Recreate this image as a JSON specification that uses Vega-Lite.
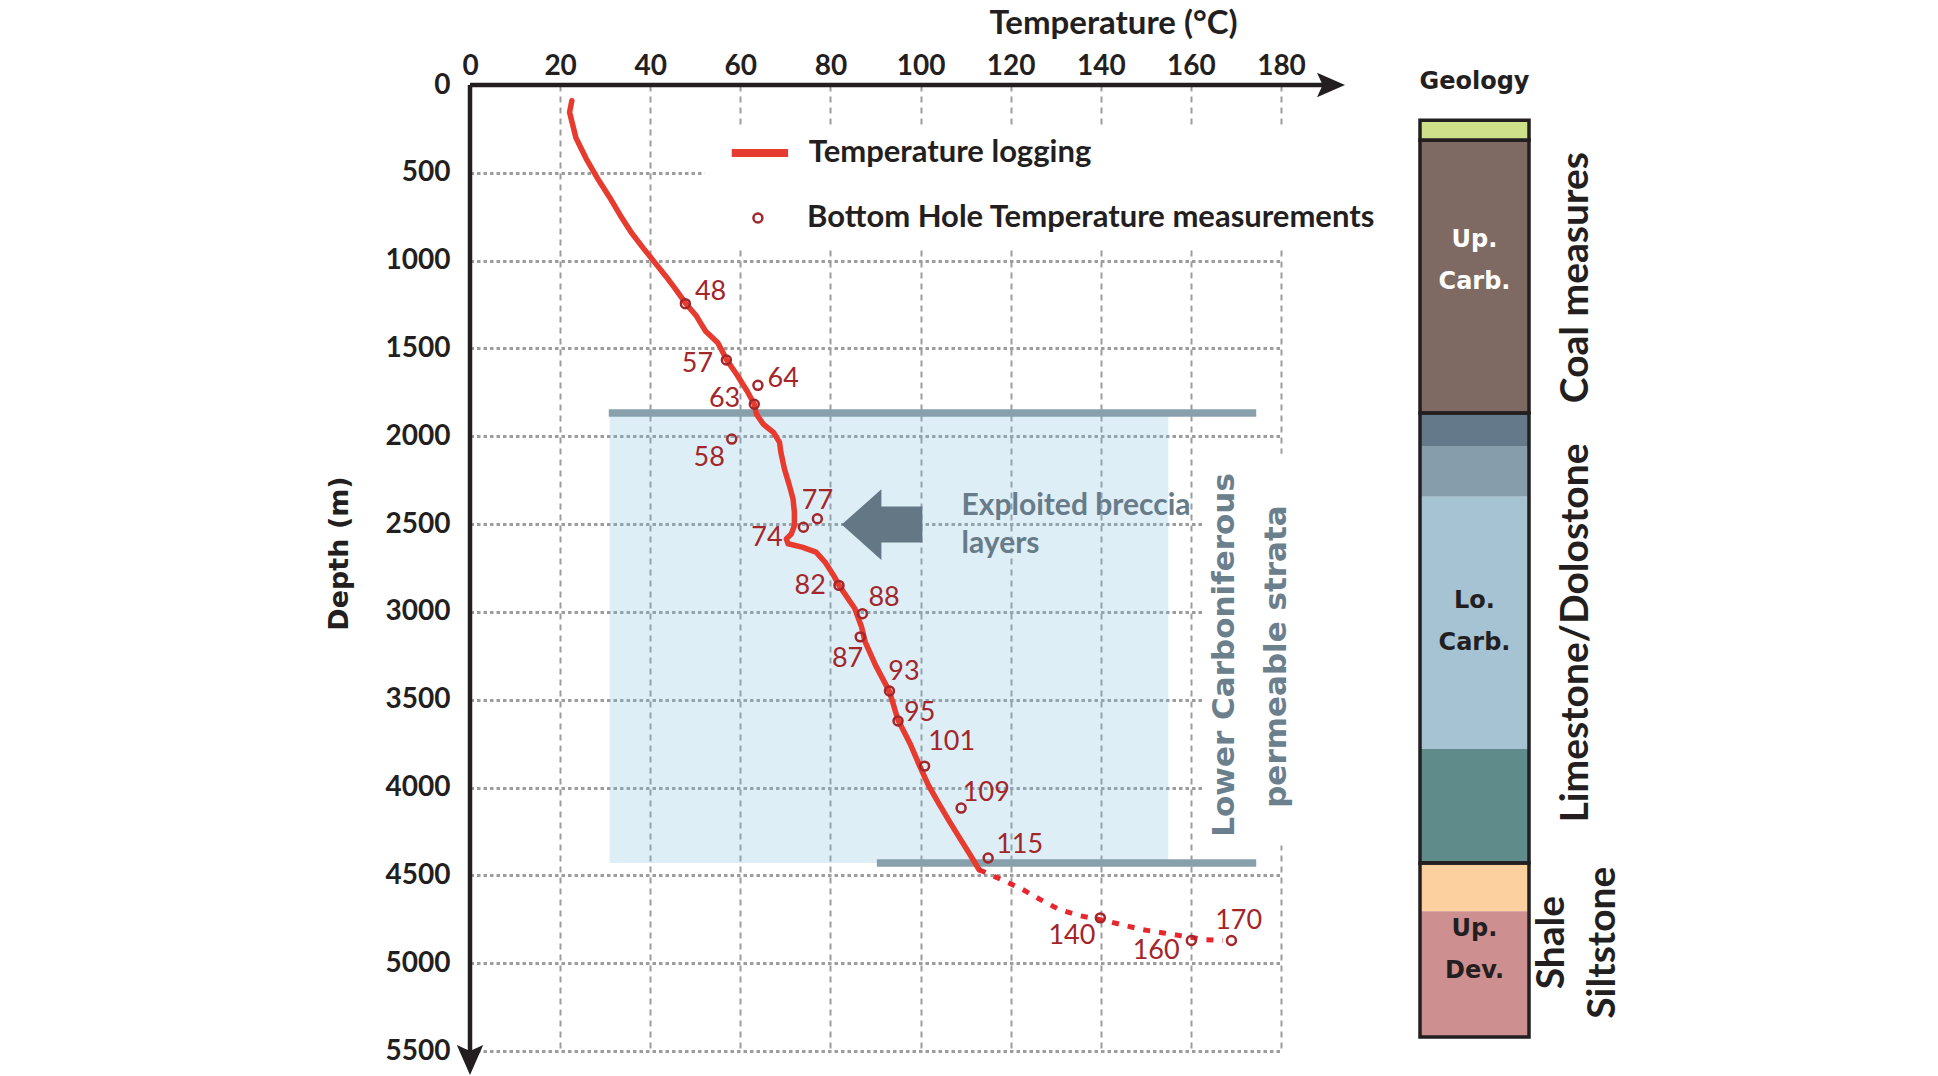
{
  "$schema": "https://vega.github.io/schema/vega-lite/v6.json",
  "autosize": {"type": "none"},
  "padding": {"left": 470, "top": 85, "right": 1468, "bottom": 991},
  "background": "white",
  "bounds": "flush",
  "spacing": 139,
  "config": {"view": {"stroke": null}, "font": "Lato"},
  "datasets": {
    "logging": [
      {"temp": 22.6, "depth": 90}, {"temp": 22.1, "depth": 155}, {"temp": 23.5, "depth": 300},
      {"temp": 25.8, "depth": 420}, {"temp": 28.5, "depth": 540}, {"temp": 31.0, "depth": 640},
      {"temp": 33.3, "depth": 740}, {"temp": 35.8, "depth": 840}, {"temp": 38.5, "depth": 930},
      {"temp": 41.0, "depth": 1010}, {"temp": 43.5, "depth": 1090}, {"temp": 45.7, "depth": 1165},
      {"temp": 47.8, "depth": 1241}, {"temp": 50.3, "depth": 1317}, {"temp": 51.4, "depth": 1364},
      {"temp": 52.3, "depth": 1402}, {"temp": 55.0, "depth": 1468}, {"temp": 55.8, "depth": 1506},
      {"temp": 56.9, "depth": 1562}, {"temp": 59.2, "depth": 1648}, {"temp": 61.5, "depth": 1742},
      {"temp": 63.1, "depth": 1818}, {"temp": 63.6, "depth": 1875}, {"temp": 65.1, "depth": 1931},
      {"temp": 67.4, "depth": 1979}, {"temp": 68.7, "depth": 2035}, {"temp": 69.0, "depth": 2092},
      {"temp": 69.8, "depth": 2187}, {"temp": 70.9, "depth": 2281}, {"temp": 71.7, "depth": 2357},
      {"temp": 72.0, "depth": 2433}, {"temp": 72.0, "depth": 2508}, {"temp": 71.3, "depth": 2556},
      {"temp": 70.2, "depth": 2584}, {"temp": 70.6, "depth": 2612}, {"temp": 73.7, "depth": 2631},
      {"temp": 76.8, "depth": 2660}, {"temp": 78.8, "depth": 2716}, {"temp": 80.7, "depth": 2792},
      {"temp": 81.9, "depth": 2849}, {"temp": 85.4, "depth": 2981}, {"temp": 86.9, "depth": 3085},
      {"temp": 87.7, "depth": 3170}, {"temp": 90.0, "depth": 3303}, {"temp": 93.1, "depth": 3454},
      {"temp": 95.0, "depth": 3615}, {"temp": 97.8, "depth": 3757}, {"temp": 99.7, "depth": 3871},
      {"temp": 101.7, "depth": 3985}, {"temp": 104.0, "depth": 4089}, {"temp": 106.4, "depth": 4193},
      {"temp": 108.7, "depth": 4288}, {"temp": 111.0, "depth": 4383}, {"temp": 113.0, "depth": 4468}
    ],
    "extrapolation": [
      {"temp": 113.0, "depth": 4468}, {"temp": 118.0, "depth": 4525}, {"temp": 122.7, "depth": 4581},
      {"temp": 126.6, "depth": 4638}, {"temp": 130.8, "depth": 4695}, {"temp": 135.2, "depth": 4729},
      {"temp": 139.9, "depth": 4752}, {"temp": 144.5, "depth": 4780}, {"temp": 149.2, "depth": 4809},
      {"temp": 153.9, "depth": 4828}, {"temp": 158.6, "depth": 4847}, {"temp": 163.2, "depth": 4866},
      {"temp": 167.1, "depth": 4871}
    ],
    "bht": [
      {"value": 48, "temp": 47.8, "depth": 1245, "label_temp": 53.4, "label_depth": 1180},
      {"value": 57, "temp": 56.9, "depth": 1566, "label_temp": 50.5, "label_depth": 1590},
      {"value": 64, "temp": 63.9, "depth": 1710, "label_temp": 69.5, "label_depth": 1676},
      {"value": 63, "temp": 63.1, "depth": 1818, "label_temp": 56.5, "label_depth": 1786},
      {"value": 58, "temp": 58.1, "depth": 2016, "label_temp": 53.1, "label_depth": 2126},
      {"value": 77, "temp": 77.1, "depth": 2470, "label_temp": 77.1, "label_depth": 2366},
      {"value": 74, "temp": 74.0, "depth": 2518, "label_temp": 65.9, "label_depth": 2580},
      {"value": 82, "temp": 81.9, "depth": 2849, "label_temp": 75.5, "label_depth": 2853},
      {"value": 88, "temp": 87.1, "depth": 3010, "label_temp": 91.9, "label_depth": 2919},
      {"value": 87, "temp": 86.6, "depth": 3142, "label_temp": 83.8, "label_depth": 3269},
      {"value": 93, "temp": 93.1, "depth": 3450, "label_temp": 96.3, "label_depth": 3341},
      {"value": 95, "temp": 95.0, "depth": 3621, "label_temp": 99.8, "label_depth": 3577},
      {"value": 101, "temp": 100.9, "depth": 3878, "label_temp": 106.9, "label_depth": 3742},
      {"value": 109, "temp": 109.0, "depth": 4117, "label_temp": 114.6, "label_depth": 4032},
      {"value": 115, "temp": 115.0, "depth": 4401, "label_temp": 122.0, "label_depth": 4326},
      {"value": 140, "temp": 139.9, "depth": 4742, "label_temp": 133.6, "label_depth": 4847},
      {"value": 160, "temp": 160.1, "depth": 4871, "label_temp": 152.3, "label_depth": 4932},
      {"value": 170, "temp": 169.0, "depth": 4871, "label_temp": 170.6, "label_depth": 4761}
    ],
    "boundaries": [
      {"depth": 1867, "from": 30.8, "to": 174.5},
      {"depth": 4430, "from": 90.3, "to": 174.5}
    ],
    "geology": [
      {"layer": "Cover", "unit": "Cover", "top": 200, "bottom": 315},
      {"layer": "Coal measures", "unit": "Up. Carb.", "top": 315, "bottom": 1867},
      {"layer": "Lo. Carb. a", "unit": "Lo. Carb.", "top": 1867, "bottom": 2060},
      {"layer": "Lo. Carb. b", "unit": "Lo. Carb.", "top": 2060, "bottom": 2345},
      {"layer": "Lo. Carb. c", "unit": "Lo. Carb.", "top": 2345, "bottom": 3780},
      {"layer": "Lo. Carb. d", "unit": "Lo. Carb.", "top": 3780, "bottom": 4430},
      {"layer": "Shale", "unit": "Up. Dev.", "top": 4430, "bottom": 4705},
      {"layer": "Siltstone", "unit": "Up. Dev.", "top": 4705, "bottom": 5420}
    ],
    "unitlabels": [
      {"unit": "Up. Carb.", "lines": ["Up.", "Carb."], "depth": 883},
      {"unit": "Lo. Carb.", "lines": ["Lo.", "Carb."], "depth": 2940},
      {"unit": "Up. Dev.", "lines": ["Up.", "Dev."], "depth": 4804}
    ],
    "lithology": [
      {"name": "Coal measures", "depth": 1097},
      {"name": "Limestone/Dolostone", "depth": 3120},
      {"name": "Shale", "depth": 4883},
      {"name": "Siltstone", "depth": 4883}
    ]
  },
  "resolve": {"scale": {"y": "shared"}},
  "hconcat": [
    {
      "width": 811,
      "height": 966,
      "layer": [
        {
          "data": {"values": [{}]},
          "mark": {"type": "rect", "fill": "#7bbbdf", "fillOpacity": 0.25},
          "encoding": {"x": {"datum": 31}, "x2": {"datum": 155}, "y": {"datum": 1870}, "y2": {"datum": 4430}}
        },
        {
          "data": {"values": [{}]},
          "mark": {"type": "rect", "fill": "white"},
          "encoding": {"x": {"datum": 52}, "x2": {"datum": 203}, "y": {"datum": 228}, "y2": {"datum": 940}}
        },
        {
          "data": {"values": [{}]},
          "mark": {"type": "rect", "fill": "white"},
          "encoding": {"x": {"datum": 162.5}, "x2": {"datum": 200}, "y": {"datum": 2100}, "y2": {"datum": 4330}}
        },
        {
          "data": {"name": "boundaries"},
          "mark": {"type": "rule", "color": "#87a0ac", "strokeWidth": 7.5, "strokeCap": "butt"},
          "encoding": {"x": {"field": "from", "type": "quantitative"}, "x2": {"field": "to"}, "y": {"field": "depth", "type": "quantitative"}}
        },
        {
          "data": {"values": [{}]},
          "mark": {"type": "point", "filled": true, "color": "#637784", "opacity": 1, "size": 6512,
                   "shape": "M -1 0 L -0.016 -0.875 L -0.016 -0.446 L 1 -0.446 L 1 0.446 L -0.016 0.446 L -0.016 0.875 Z"},
          "encoding": {"x": {"datum": 91.45}, "y": {"datum": 2503}}
        },
        {
          "data": {"values": [{"text": ["Exploited breccia", "layers"]}]},
          "mark": {"type": "text", "font": "Lato", "fontWeight": "bold", "fontSize": 30, "color": "#677b88",
                   "align": "left", "baseline": "alphabetic", "lineHeight": 38},
          "encoding": {"x": {"datum": 109.1}, "y": {"datum": 2448}, "text": {"field": "text"}}
        },
        {
          "data": {"values": [{"text": "Lower Carboniferous", "temp": 167.5, "depth": 3245}, {"text": "permeable strata", "temp": 179.1, "depth": 3254}]},
          "mark": {"type": "text", "font": "DejaVu Sans", "fontWeight": "bold", "fontSize": 31, "color": "#6b808c",
                   "angle": 270, "align": "center", "baseline": "middle"},
          "encoding": {"x": {"field": "temp", "type": "quantitative"}, "y": {"field": "depth", "type": "quantitative"}, "text": {"field": "text"}}
        },
        {
          "data": {"name": "logging"},
          "mark": {"type": "line", "color": "#e63b2e", "strokeWidth": 5.5, "strokeCap": "round", "strokeJoin": "round"},
          "encoding": {
            "x": {
              "field": "temp", "type": "quantitative",
              "scale": {"domain": [0, 180], "nice": false, "zero": false},
              "axis": {
                "orient": "top", "values": [0, 20, 40, 60, 80, 100, 120, 140, 160, 180],
                "title": "Temperature (°C)", "domain": false, "ticks": false, "tickSize": 0,
                "grid": true, "gridDash": [6, 5], "gridColor": "#9d9d9d", "gridWidth": 2,
                "labelFont": "Lato", "labelFontWeight": "bold", "labelFontSize": 28, "labelColor": "#231f20",
                "labelPadding": 5, "labelFlush": false, "labelOverlap": false,
                "titleFont": "Lato", "titleFontWeight": "bold", "titleFontSize": 33, "titleColor": "#231f20",
                "titleX": 643, "titleY": -62, "titleAlign": "center", "titleBaseline": "middle", "titleAngle": 0
              }
            },
            "y": {
              "field": "depth", "type": "quantitative",
              "scale": {"domain": [0, 5500], "reverse": true, "nice": false, "zero": false},
              "axis": {
                "orient": "left", "values": [0, 500, 1000, 1500, 2000, 2500, 3000, 3500, 4000, 4500, 5000, 5500],
                "format": "d",
                "title": "Depth (m)", "domain": false, "ticks": false, "tickSize": 0,
                "grid": true, "gridDash": [3.5, 3], "gridColor": "#9d9d9d", "gridWidth": 3,
                "labelFont": "Lato", "labelFontWeight": "bold", "labelFontSize": 28, "labelColor": "#231f20",
                "labelPadding": 20, "labelFlush": false, "labelOverlap": false, "labelBaseline": "middle",
                "titleFont": "DejaVu Sans", "titleFontWeight": "bold", "titleFontSize": 27, "titleColor": "#231f20",
                "titleX": -131, "titleY": 468, "titleAngle": 270, "titleAlign": "center", "titleBaseline": "middle"
              }
            },
            "order": {"field": "depth", "type": "quantitative"}
          }
        },
        {
          "data": {"name": "extrapolation"},
          "mark": {"type": "line", "color": "#e8262e", "strokeWidth": 5, "strokeDash": [7, 9]},
          "encoding": {
            "x": {"field": "temp", "type": "quantitative"},
            "y": {"field": "depth", "type": "quantitative"},
            "order": {"field": "depth", "type": "quantitative"}
          }
        },
        {
          "data": {"name": "bht"},
          "mark": {"type": "point", "shape": "circle", "filled": false, "color": "#a3262a", "strokeWidth": 2.5, "size": 80, "opacity": 1},
          "encoding": {"x": {"field": "temp", "type": "quantitative"}, "y": {"field": "depth", "type": "quantitative"}}
        },
        {
          "data": {"name": "bht"},
          "mark": {"type": "text", "font": "Lato", "fontSize": 27, "color": "#a3262a", "align": "center", "baseline": "middle"},
          "encoding": {
            "x": {"field": "label_temp", "type": "quantitative"},
            "y": {"field": "label_depth", "type": "quantitative"},
            "text": {"field": "value", "type": "nominal"}
          }
        },
        {
          "data": {"values": [{}]},
          "mark": {"type": "rule", "color": "#e63b2e", "strokeWidth": 8, "strokeCap": "butt"},
          "encoding": {"x": {"datum": 58.1}, "x2": {"datum": 70.6}, "y": {"datum": 387}}
        },
        {
          "data": {"values": [{}]},
          "mark": {"type": "point", "shape": "circle", "filled": false, "color": "#a3262a", "strokeWidth": 2.5, "size": 80, "opacity": 1},
          "encoding": {"x": {"datum": 63.9}, "y": {"datum": 757}}
        },
        {
          "data": {"values": [{"text": "Temperature logging", "temp": 75.2, "depth": 387}, {"text": "Bottom Hole Temperature measurements", "temp": 74.8, "depth": 757}]},
          "mark": {"type": "text", "font": "Lato", "fontWeight": "bold", "fontSize": 31, "color": "#231f20", "align": "left", "baseline": "middle"},
          "encoding": {"x": {"field": "temp", "type": "quantitative"}, "y": {"field": "depth", "type": "quantitative"}, "text": {"field": "text"}}
        },
        {
          "data": {"values": [{}]},
          "mark": {"type": "rule", "color": "#231f20", "strokeWidth": 4.5},
          "encoding": {"x": {"datum": 0}, "x2": {"datum": 190}, "y": {"datum": 0}}
        },
        {
          "data": {"values": [{}]},
          "mark": {"type": "rule", "color": "#231f20", "strokeWidth": 4.5},
          "encoding": {"x": {"datum": 0}, "y": {"datum": 0}, "y2": {"datum": 5540}}
        },
        {
          "data": {"values": [{}]},
          "mark": {"type": "point", "filled": true, "color": "#231f20", "opacity": 1, "size": 784, "shape": "M 1 0 L -1 -0.88 L -0.6 0 L -1 0.88 Z"},
          "encoding": {"x": {"datum": 191.1}, "y": {"datum": 0}}
        },
        {
          "data": {"values": [{}]},
          "mark": {"type": "point", "filled": true, "color": "#231f20", "opacity": 1, "size": 900, "shape": "M 0 1 L -0.88 -1 L 0 -0.6 L 0.88 -1 Z"},
          "encoding": {"x": {"datum": 0}, "y": {"datum": 5551}}
        }
      ]
    },
    {
      "width": 109,
      "height": 966,
      "layer": [
        {
          "data": {"name": "geology"},
          "mark": {"type": "rect"},
          "encoding": {
            "y": {"field": "top", "type": "quantitative", "scale": {"domain": [0, 5500], "reverse": true, "nice": false, "zero": false}, "axis": null},
            "y2": {"field": "bottom"},
            "color": {
              "field": "layer", "type": "nominal", "legend": null,
              "scale": {
                "domain": ["Cover", "Coal measures", "Lo. Carb. a", "Lo. Carb. b", "Lo. Carb. c", "Lo. Carb. d", "Shale", "Siltstone"],
                "range": ["#cfe08a", "#7f6a63", "#64798a", "#869dab", "#a6c3d3", "#5f8c8a", "#fdd09f", "#ce8f91"]
              }
            }
          }
        },
        {
          "data": {"name": "geology"},
          "transform": [
            {"aggregate": [{"op": "min", "field": "top", "as": "top"}, {"op": "max", "field": "bottom", "as": "bottom"}], "groupby": ["unit"]}
          ],
          "mark": {"type": "rect", "fillOpacity": 0, "stroke": "#231f20", "strokeWidth": 3.5},
          "encoding": {"y": {"field": "top", "type": "quantitative"}, "y2": {"field": "bottom"}}
        },
        {
          "data": {"name": "unitlabels"},
          "transform": [{"filter": "datum.unit === 'Up. Carb.'"}],
          "mark": {"type": "text", "font": "DejaVu Sans", "fontWeight": "bold", "fontSize": 24, "color": "white", "align": "center", "baseline": "middle", "lineHeight": 42},
          "encoding": {"y": {"field": "depth", "type": "quantitative"}, "text": {"field": "lines"}}
        },
        {
          "data": {"name": "unitlabels"},
          "transform": [{"filter": "datum.unit !== 'Up. Carb.'"}],
          "mark": {"type": "text", "font": "DejaVu Sans", "fontWeight": "bold", "fontSize": 24, "color": "#231f20", "align": "center", "baseline": "middle", "lineHeight": 42},
          "encoding": {"y": {"field": "depth", "type": "quantitative"}, "text": {"field": "lines"}}
        },
        {
          "data": {"values": [{"text": "Geology"}]},
          "mark": {"type": "text", "font": "DejaVu Sans", "fontWeight": "bold", "fontSize": 24, "color": "#231f20", "align": "center", "baseline": "middle"},
          "encoding": {"y": {"datum": -17}, "text": {"field": "text"}}
        },
        {
          "data": {"name": "lithology"},
          "transform": [{"filter": "datum.name === 'Coal measures' || datum.name === 'Limestone/Dolostone'"}],
          "mark": {"type": "text", "font": "Lato", "fontWeight": "bold", "fontSize": 39, "color": "#231f20", "angle": 270, "align": "center", "baseline": "middle", "dy": 101},
          "encoding": {"y": {"field": "depth", "type": "quantitative"}, "text": {"field": "name"}}
        },
        {
          "data": {"name": "lithology"},
          "transform": [{"filter": "datum.name === 'Shale'"}],
          "mark": {"type": "text", "font": "Lato", "fontWeight": "bold", "fontSize": 39, "color": "#231f20", "angle": 270, "align": "center", "baseline": "middle", "dy": 77},
          "encoding": {"y": {"field": "depth", "type": "quantitative"}, "text": {"field": "name"}}
        },
        {
          "data": {"name": "lithology"},
          "transform": [{"filter": "datum.name === 'Siltstone'"}],
          "mark": {"type": "text", "font": "Lato", "fontWeight": "bold", "fontSize": 39, "color": "#231f20", "angle": 270, "align": "center", "baseline": "middle", "dy": 128},
          "encoding": {"y": {"field": "depth", "type": "quantitative"}, "text": {"field": "name"}}
        }
      ]
    }
  ]
}
